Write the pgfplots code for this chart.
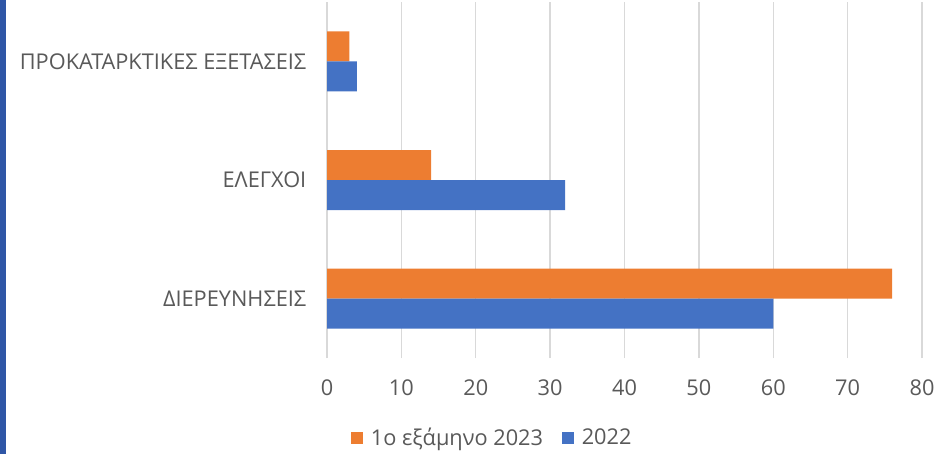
\documentclass[border=0pt]{standalone}
\usepackage{fontspec}
\setmainfont{Open Sans}
\usepackage{pgfplots}
\pgfplotsset{compat=1.18}
\definecolor{corange}{HTML}{ED7D31}
\definecolor{cblue}{HTML}{4472C4}
\definecolor{ctext}{HTML}{595959}
\definecolor{cgrid}{HTML}{D9D9D9}
\definecolor{cstripe}{HTML}{2F56A6}
\begin{document}
\begin{tikzpicture}
\useasboundingbox (0,0) rectangle (711pt,340.5pt);
\fill[cstripe] (0,0) rectangle (4.5pt,340.5pt);
\begin{axis}[
  at={(245.25pt,72pt)}, anchor=south west,
  scale only axis, width=446.25pt, height=267pt,
  xbar, bar width=22.5pt,
  xmin=0, xmax=80, ymin=-0.5, ymax=2.5,
  xtick={0,10,...,80}, ytick={0,1,2},
  yticklabels={ΔΙΕΡΕΥΝΗΣΕΙΣ, {ΕΛΕΓΧΟΙ\ }, ΠΡΟΚΑΤΑΡΚΤΙΚΕΣ ΕΞΕΤΑΣΕΙΣ},
  major tick length=0pt,
  axis line style={draw=none},
  xmajorgrids, grid style={cgrid, line width=1.1pt},
  /pgf/number format/assume math mode=true,
  tick label style={font=\fontsize{16.3}{20}\selectfont, text=ctext},
  yticklabel style={xshift=-12pt},
  xticklabel style={yshift=-13pt},
  legend style={at={(0.033,-0.225)}, anchor=west, draw=none, legend columns=2,
    font=\fontsize{16.3}{20}\selectfont, text=ctext,
    /tikz/every odd column/.append style={column sep=4pt},
    /tikz/every even column/.append style={column sep=12pt}},
  legend image code/.code={\fill[#1] (0pt,-4.5pt) rectangle (9pt,4.5pt);},
  clip=false,
]
\draw[cgrid, line width=1.1pt] (axis cs:0,-0.5) -- ++(0,-14pt);
\foreach \v in {10,20,...,80}{\edef\tmp{\noexpand\draw[cgrid, line width=1.1pt] (axis cs:\v,-0.5) -- ++(0,-14pt);}\tmp}
\addplot[fill=corange, draw=none, bar shift=11.25pt] coordinates {(76,0) (14,1) (3,2)};
\addlegendentry{1ο εξάμηνο 2023}
\addplot[fill=cblue, draw=none, bar shift=-11.25pt] coordinates {(60,0) (32,1) (4,2)};
\addlegendentry{2022}
\end{axis}
\end{tikzpicture}
\end{document}
